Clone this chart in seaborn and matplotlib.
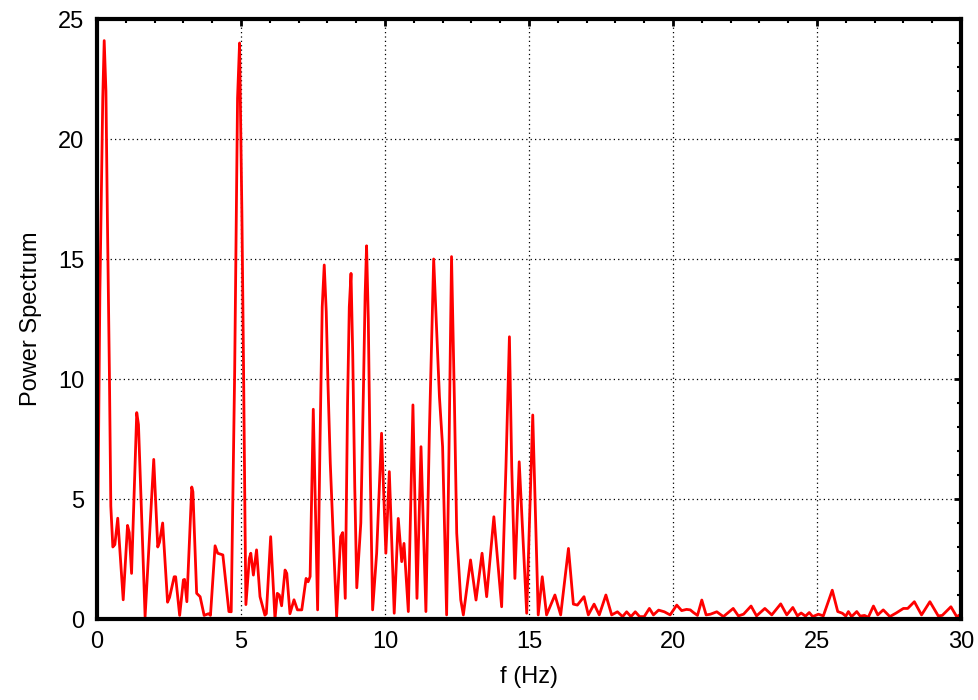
import matplotlib
matplotlib.use("Agg")
import matplotlib.pyplot as plt
from matplotlib.ticker import MultipleLocator
import seaborn as sns
import pandas as pd

# frequency (Hz) and power (vertices of the trace)
freq = [0.0, 0.10, 0.20, 0.25, 0.31, 0.36, 0.43, 0.48, 0.55, 0.62, 0.72, 0.91, 1.06, 1.12, 1.20,
        1.38, 1.44, 1.67, 1.97, 2.11, 2.17, 2.28, 2.45, 2.52, 2.68, 2.73, 2.87, 3.00, 3.04, 3.12,
        3.29, 3.33, 3.46, 3.58, 3.72, 3.87, 3.94, 4.10, 4.19, 4.30, 4.37, 4.58, 4.66, 4.78, 4.88,
        4.95, 5.03, 5.09, 5.14, 5.17, 5.29, 5.34, 5.43, 5.54, 5.66, 5.83, 5.88, 6.03, 6.18, 6.26,
        6.33, 6.41, 6.53, 6.59, 6.70, 6.84, 6.96, 7.11, 7.26, 7.33, 7.40, 7.51, 7.66, 7.74, 7.82,
        7.89, 7.96, 8.02, 8.10, 8.20, 8.32, 8.46, 8.53, 8.62, 8.70, 8.76, 8.82, 8.88, 8.95, 9.02,
        9.16, 9.25, 9.31, 9.36, 9.42, 9.49, 9.57, 9.71, 9.88, 10.03, 10.15, 10.32, 10.46, 10.58,
        10.66, 10.81, 10.97, 11.11, 11.25, 11.42, 11.54, 11.69, 11.80, 11.89, 12.00, 12.14, 12.23,
        12.31, 12.41, 12.49, 12.63, 12.72, 12.97, 13.16, 13.37, 13.53, 13.78, 14.05, 14.20, 14.32,
        14.40, 14.51, 14.66, 14.92, 15.13, 15.32, 15.46, 15.61, 15.90, 16.10, 16.37, 16.54, 16.68,
        16.91, 17.06, 17.26, 17.44, 17.67, 17.87, 18.07, 18.25, 18.39, 18.54, 18.69, 18.84, 19.00,
        19.18, 19.32, 19.50, 19.70, 19.90, 20.13, 20.30, 20.47, 20.60, 20.71, 20.85, 21.00, 21.15,
        21.30, 21.52, 21.75, 22.09, 22.27, 22.45, 22.71, 22.90, 23.19, 23.43, 23.74, 23.95, 24.16,
        24.32, 24.45, 24.60, 24.73, 24.85, 25.05, 25.22, 25.53, 25.72, 25.88, 26.00, 26.09, 26.20,
        26.38, 26.50, 26.65, 26.78, 26.96, 27.11, 27.30, 27.53, 27.75, 28.00, 28.15, 28.38, 28.63,
        28.92, 29.21, 29.35, 29.65, 29.85, 30.00]
power = [0.3, 13.6, 21.7, 24.1, 22.0, 16.8, 10.3, 4.7, 3.0, 3.1, 4.2, 0.8, 3.9, 3.6, 1.9,
         8.6, 8.1, 0.1, 6.65, 3.0, 3.2, 4.0, 0.7, 0.9, 1.76, 1.76, 0.15, 1.63, 1.65, 0.72,
         5.5, 5.3, 1.07, 0.93, 0.15, 0.22, 0.15, 3.05, 2.74, 2.7, 2.67, 0.31, 0.3, 10.3, 21.7,
         24.0, 17.0, 10.3, 3.9, 0.6, 2.53, 2.74, 1.83, 2.88, 0.93, 0.16, 0.22, 3.43, 0.0, 1.07,
         1.0, 0.55, 2.04, 1.9, 0.22, 0.8, 0.38, 0.38, 1.69, 1.55, 1.77, 8.74, 0.38, 7.1, 13.0,
         14.75, 12.8, 9.8, 6.5, 3.5, 0.1, 3.43, 3.6, 0.86, 9.0, 13.0, 14.4, 11.0, 5.5, 1.3,
         4.0, 9.5, 13.5, 15.55, 12.5, 6.0, 0.38, 2.74, 7.74, 2.74, 6.14, 0.24, 4.19, 2.39,
         3.15, 0.31, 8.92, 0.86, 7.18, 0.31, 7.74, 15.0, 11.9, 9.26, 7.18, 0.17, 7.74,
         15.1, 9.1, 3.58, 0.8, 0.17, 2.46, 0.79, 2.74, 0.93, 4.26, 0.51, 6.35, 11.76,
         6.35, 1.69, 6.55, 0.24, 8.5, 0.17, 1.76, 0.17, 1.0, 0.17, 2.94, 0.62, 0.58,
         0.93, 0.17, 0.62, 0.17, 1.0, 0.17, 0.3, 0.1, 0.3, 0.1, 0.3, 0.1, 0.1,
         0.44, 0.17, 0.37, 0.3, 0.17, 0.58, 0.35, 0.4, 0.38, 0.27, 0.15, 0.79, 0.17,
         0.2, 0.3, 0.1, 0.44, 0.13, 0.2, 0.54, 0.13, 0.44, 0.17, 0.63, 0.17, 0.48,
         0.13, 0.25, 0.12, 0.27, 0.1, 0.2, 0.13, 1.2, 0.31, 0.24, 0.12, 0.31, 0.1,
         0.31, 0.12, 0.15, 0.07, 0.54, 0.17, 0.38, 0.1, 0.25, 0.44, 0.44, 0.72, 0.17,
         0.72, 0.13, 0.15, 0.51, 0.1, 0.2]

df = pd.DataFrame({"f": freq, "P": power})

sns.set_style("white")
plt.rcParams["font.family"] = ["Liberation Sans", "DejaVu Sans"]
plt.rcParams["text.color"] = "black"
plt.rcParams["axes.labelcolor"] = "black"
plt.rcParams["xtick.color"] = "black"
plt.rcParams["ytick.color"] = "black"

fig = plt.figure(figsize=(9.79, 7.0), dpi=100)
ax = fig.add_axes([97 / 979, 81 / 700, 864 / 979, 600 / 700])

sns.lineplot(data=df, x="f", y="P", color="#ff0000", linewidth=2.0, ax=ax)

ax.set_xlim(0, 30)
ax.set_ylim(0, 25)
ax.xaxis.set_major_locator(MultipleLocator(5))
ax.xaxis.set_minor_locator(MultipleLocator(1))
ax.yaxis.set_major_locator(MultipleLocator(5))
ax.yaxis.set_minor_locator(MultipleLocator(1))

ax.grid(True, which="major", color="black", linestyle=(0, (1, 2.5)), linewidth=0.9)
ax.tick_params(which="both", direction="in", top=True, right=True, color="black")
ax.tick_params(which="major", length=5, width=2, labelsize=17, pad=9, labelcolor="black")
ax.tick_params(which="minor", length=3, width=1.5)

for s in ax.spines.values():
    s.set_visible(True)
    s.set_color("black")
    s.set_linewidth(3)

ax.set_xlabel("f (Hz)", fontsize=17, labelpad=9, color="black")
ax.set_ylabel("Power Spectrum", fontsize=17, labelpad=12, color="black")

fig.savefig("out.png", dpi=100)
